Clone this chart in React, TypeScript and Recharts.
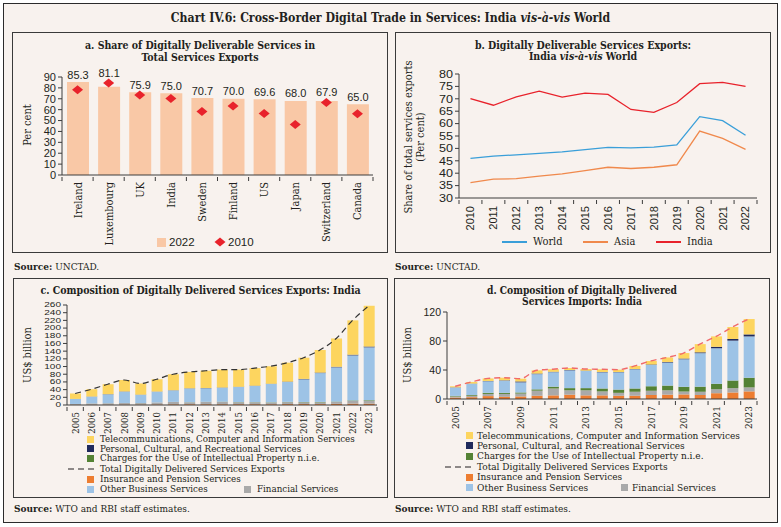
import React from "react";
import { Bar, ComposedChart, LabelList, Line, LineChart, Scatter, XAxis, YAxis } from "recharts";

const SERIF = '"DejaVu Serif Condensed", "DejaVu Serif", serif';
const SANS = '"Liberation Sans", Arial, sans-serif';
const INK = "#231f20";
const AXIS = "#3c3c3c";
const BG = "#f8f2ee";

// a. share of digitally deliverable services (per cent)
const COUNTRIES = ["Ireland", "Luxembourg", "UK", "India", "Sweden", "Finland", "US", "Japan", "Switzerland", "Canada"];
const SHARE_2022 = [85.3, 81.1, 75.9, 75.0, 70.7, 70.0, 69.6, 68.0, 67.9, 65.0];
const SHARE_2010 = [78.3, 84.5, 73.4, 70.3, 58.4, 63.3, 56.5, 46.4, 66.6, 56.2];
const TICKS_A = [0, 10, 20, 30, 40, 50, 60, 70, 80, 90];

// b. share of total services exports (per cent)
const YEARS_B = ["2010", "2011", "2012", "2013", "2014", "2015", "2016", "2017", "2018", "2019", "2020", "2021", "2022"];
const WORLD = [46.0, 46.9, 47.4, 48.0, 48.6, 49.5, 50.4, 50.2, 50.5, 51.4, 62.8, 61.2, 55.3];
const ASIA = [36.2, 37.6, 37.8, 38.8, 39.7, 41.0, 42.4, 41.9, 42.4, 43.4, 57.0, 54.0, 49.6];
const INDIA = [70.1, 67.4, 70.8, 73.1, 70.7, 72.3, 71.8, 65.7, 64.5, 68.5, 76.1, 76.6, 75.0];
const TICKS_B = [30, 35, 40, 45, 50, 55, 60, 65, 70, 75, 80];

// c/d. composition, US$ billion
const YEARS_CD = ["2005", "2006", "2007", "2008", "2009", "2010", "2011", "2012", "2013", "2014", "2015", "2016", "2017", "2018", "2019", "2020", "2021", "2022", "2023"];

const EXP_INSURANCE = [0.8, 0.9, 1.0, 1.2, 1.2, 1.5, 1.8, 2.0, 2.0, 2.0, 2.1, 2.0, 2.1, 2.4, 2.5, 2.4, 3.0, 3.5, 3.5];
const EXP_FINANCIAL = [1.8, 3.0, 3.4, 4.0, 3.7, 5.0, 6.0, 5.0, 6.0, 6.0, 5.0, 5.0, 4.5, 5.0, 4.5, 4.5, 5.0, 7.0, 7.5];
const EXP_IP = [0.1, 0.2, 0.2, 0.1, 0.2, 0.1, 0.3, 0.3, 0.4, 0.7, 0.5, 0.5, 0.7, 0.8, 0.9, 1.2, 0.9, 1.3, 1.5];
const EXP_OTHER = [12.9, 17.6, 23.1, 29.4, 21.4, 28.1, 29.9, 35.7, 35.1, 36.3, 39.2, 41.9, 47.3, 51.6, 58.8, 74.9, 89.1, 117.2, 137.5];
const EXP_PERSONAL = [0.3, 0.4, 0.5, 0.6, 0.5, 0.4, 0.4, 0.5, 0.6, 0.6, 0.6, 0.8, 0.9, 1.0, 1.2, 1.3, 1.4, 1.8, 2.0];
const EXP_TELECOM = [14.1, 18.9, 25.8, 29.7, 29.0, 31.9, 41.6, 42.5, 44.9, 46.4, 44.6, 45.8, 45.5, 49.2, 55.1, 58.7, 73.6, 89.2, 106.0];
const EXP_TOTAL = [30, 41, 54, 65, 56, 67, 80, 86, 89, 92, 92, 96, 101, 110, 123, 143, 173, 220, 258];
const TICKS_C = [0, 20, 40, 60, 80, 100, 120, 140, 160, 180, 200, 220, 240, 260];

const IMP_INSURANCE = [2.0, 2.5, 4.0, 3.0, 3.5, 4.5, 5.0, 6.0, 5.0, 5.0, 4.5, 4.5, 5.5, 6.0, 6.3, 5.5, 8.0, 9.0, 10.5];
const IMP_FINANCIAL = [1.5, 2.0, 3.0, 4.0, 4.0, 7.0, 9.5, 6.0, 7.0, 5.5, 4.0, 5.5, 6.0, 6.0, 4.0, 4.5, 5.5, 6.0, 5.5];
const IMP_IP = [0.8, 1.0, 1.5, 1.5, 1.5, 1.8, 2.5, 3.0, 3.0, 4.0, 4.5, 4.5, 6.0, 6.5, 6.5, 7.0, 7.5, 10.5, 13.3];
const IMP_OTHER = [11.5, 15.5, 16.0, 16.8, 14.0, 21.0, 20.0, 24.5, 23.6, 22.3, 23.8, 26.5, 29.5, 31.8, 38.0, 46.2, 49.0, 55.0, 57.0];
const IMP_PERSONAL = [0.3, 0.3, 0.4, 0.5, 1.2, 0.8, 0.6, 0.5, 0.5, 0.5, 0.4, 0.4, 0.5, 0.8, 1.0, 1.2, 2.0, 2.3, 2.8];
const IMP_TELECOM = [1.5, 2.2, 3.5, 3.6, 3.8, 4.5, 3.5, 2.8, 2.3, 3.7, 3.3, 4.2, 5.0, 6.2, 7.6, 11.3, 14.4, 16.5, 21.2];
const IMP_TOTAL = [17.5, 23.5, 28.4, 29.4, 28.0, 39.6, 41.1, 42.8, 41.4, 41.0, 40.5, 45.6, 52.5, 57.3, 63.4, 75.7, 86.4, 99.3, 110.3];
const TICKS_D = [0, 40, 80, 120];

const C = {
  peach: "#f9c8a6",
  red: "#e8222b",
  world: "#3a9fd9",
  asia: "#f0894c",
  india: "#e8222b",
  telecom: "#fdd55f",
  personal: "#1f2a5c",
  ip: "#548235",
  insurance: "#ed7d31",
  other: "#9dc3e6",
  financial: "#a9a9a9",
};

const dataA = COUNTRIES.map((c, i) => ({ country: c, v2022: SHARE_2022[i], v2010: SHARE_2010[i] }));
const dataB = YEARS_B.map((y, i) => ({ year: y, world: WORLD[i], asia: ASIA[i], india: INDIA[i] }));
const dataC = YEARS_CD.map((y, i) => ({
  year: y,
  insurance: EXP_INSURANCE[i],
  financial: EXP_FINANCIAL[i],
  ip: EXP_IP[i],
  other: EXP_OTHER[i],
  personal: EXP_PERSONAL[i],
  telecom: EXP_TELECOM[i],
  total: EXP_TOTAL[i],
}));
const dataD = YEARS_CD.map((y, i) => ({
  year: y,
  insurance: IMP_INSURANCE[i],
  financial: IMP_FINANCIAL[i],
  ip: IMP_IP[i],
  other: IMP_OTHER[i],
  personal: IMP_PERSONAL[i],
  telecom: IMP_TELECOM[i],
  total: IMP_TOTAL[i],
}));

// category tick: ticks on band boundaries (Excel style), label rotated
function CategoryTick(props: any) {
  const { x, y, payload, index, band, fontSize, font, gap, every = 1 } = props;
  const half = band / 2;
  return (
    <g>
      {index === 0 && <line x1={x - half} y1={y} x2={x - half} y2={y + 4} stroke={AXIS} />}
      <line x1={x + half} y1={y} x2={x + half} y2={y + 4} stroke={AXIS} />
      {index % every === 0 && (
        <text
          x={0}
          y={0}
          transform={`translate(${x + fontSize * 0.36},${y + gap}) rotate(-90)`}
          textAnchor="end"
          fontSize={fontSize}
          fontFamily={font}
          fill={INK}
        >
          {payload.value}
        </text>
      )}
    </g>
  );
}

// value-axis numerals, optionally stretched/squashed to fit crowded axes
function ScaledTick(props: any) {
  const { x, y, payload, size = 10, sx = 1, sy = 1 } = props;
  return (
    <text
      x={0}
      y={0}
      transform={`translate(${x},${y}) scale(${sx},${sy})`}
      textAnchor="end"
      dy="0.36em"
      fontSize={size}
      fontFamily={SANS}
      fill={INK}
    >
      {payload.value}
    </text>
  );
}

function Diamond(props: any) {
  const { cx, cy } = props;
  return <polygon points={`${cx},${cy - 4.5} ${cx + 5.5},${cy} ${cx},${cy + 4.5} ${cx - 5.5},${cy}`} fill={C.red} />;
}

// bar value label; lifted when the 2010 diamond sits above the bar top
const PX_PER_PCT = 98 / 90;
function ValueLabel(props: any) {
  const vb = props.viewBox || props;
  const { value, index } = props;
  const x = vb.x + vb.width / 2;
  const top = vb.y;
  const diamondTop = top + (Number(value) - SHARE_2010[index]) * PX_PER_PCT - 4.5;
  const base = Math.min(top - 3.5, diamondTop - 1.5);
  return (
    <text x={x} y={base} textAnchor="middle" fontSize={11} fontFamily={SANS} fill={INK}>
      {Number(value).toFixed(1)}
    </text>
  );
}

function Txt({ x, y, w, align = "left", size = 10, bold = false, children, lh = 12 }: any) {
  return (
    <div
      style={{
        position: "absolute",
        left: x,
        top: y - lh / 2,
        width: w,
        textAlign: align,
        fontSize: size,
        fontWeight: bold ? 700 : 400,
        lineHeight: `${lh}px`,
        whiteSpace: "nowrap",
      }}
    >
      {children}
    </div>
  );
}

function VLabel({ cx, cy, size = 11, lines }: { cx: number; cy: number; size?: number; lines: string[] }) {
  const w = 220;
  const h = lines.length * 12;
  return (
    <div
      style={{
        position: "absolute",
        left: cx - w / 2,
        top: cy - h / 2,
        width: w,
        height: h,
        transform: "rotate(-90deg)",
        textAlign: "center",
        fontSize: size,
        lineHeight: "12px",
        whiteSpace: "nowrap",
      }}
    >
      {lines.map((l) => (
        <div key={l}>{l}</div>
      ))}
    </div>
  );
}

function Box({ x, y, w, h }: any) {
  return (
    <div
      style={{ position: "absolute", left: x, top: y, width: w, height: h, boxSizing: "border-box", border: "1px solid #3a3a3a" }}
    />
  );
}

function Swatch({ x, y, color, label, size, gap = 6, sq = 7, lh = 10 }: any) {
  return (
    <>
      <div style={{ position: "absolute", left: x, top: y - sq / 2, width: sq, height: sq, background: color }} />
      <Txt x={x + sq + gap} y={y} size={size} lh={lh}>
        {label}
      </Txt>
    </>
  );
}

function DashKey({ x1, x2, y, label, size, tx, lh = 10 }: any) {
  return (
    <>
      <svg style={{ position: "absolute", left: x1, top: y - 2 }} width={x2 - x1} height={4}>
        <line x1={0} y1={2} x2={x2 - x1} y2={2} stroke={INK} strokeWidth={1.2} strokeDasharray="6 4" />
      </svg>
      <Txt x={tx} y={y} size={size} lh={lh}>
        {label}
      </Txt>
    </>
  );
}

function LineKey({ x, y, color, label }: any) {
  return (
    <>
      <div style={{ position: "absolute", left: x, top: y - 0.75, width: 25, height: 1.5, background: color }} />
      <Txt x={x + 31} y={y} size={11}>
        {label}
      </Txt>
    </>
  );
}

const yTick = (size: number) => ({ fontSize: size, fill: INK, fontFamily: SANS });

function Source({ x, y, text }: any) {
  return (
    <Txt x={x} y={y} size={10}>
      <b>Source:</b> {text}
    </Txt>
  );
}

export default function App() {
  return (
    <div
      style={{
        position: "absolute",
        left: 0,
        top: 0,
        width: 781,
        height: 527,
        background: "#fff",
        fontFamily: SERIF,
        color: INK,
        overflow: "hidden",
      }}
    >
      <div
        style={{
          position: "absolute",
          left: 3,
          top: 3,
          width: 775,
          height: 520,
          boxSizing: "border-box",
          border: "1.5px solid #2b2b2b",
          background: BG,
        }}
      />
      <Txt x={0} y={18} w={781} align="center" size={12.2} bold lh={16}>
        Chart IV.6: Cross-Border Digital Trade in Services: India <i>vis-à-vis</i> World
      </Txt>

      {/* a */}
      <Box x={12} y={32} w={376} h={221} />
      <Txt x={12} y={45} w={376} align="center" size={10.5} bold lh={11}>
        a. Share of Digitally Deliverable Services in
      </Txt>
      <Txt x={12} y={57} w={376} align="center" size={10.5} bold lh={11}>
        Total Services Exports
      </Txt>
      <VLabel cx={28} cy={125} lines={["Per cent"]} />
      <div style={{ position: "absolute", left: 12, top: 32 }}>
        <ComposedChart width={376} height={221} data={dataA} margin={{ top: 45, right: 15, bottom: 8, left: 20 }}>
          <XAxis
            dataKey="country"
            height={70}
            interval={0}
            tickSize={0}
            tickLine={false}
            axisLine={{ stroke: AXIS }}
            tick={<CategoryTick band={31.1} fontSize={11} font={SERIF} gap={5} />}
          />
          <YAxis
            width={30}
            domain={[0, 90]}
            ticks={TICKS_A}
            interval={0}
            tickSize={4}
            tickMargin={2}
            axisLine={{ stroke: AXIS }}
            tickLine={{ stroke: AXIS }}
            tick={yTick(11)}
          />
          <Bar dataKey="v2022" fill={C.peach} barSize={22} isAnimationActive={false}>
            <LabelList dataKey="v2022" content={<ValueLabel />} />
          </Bar>
          <Scatter dataKey="v2010" shape={Diamond} isAnimationActive={false} />
        </ComposedChart>
      </div>
      <div style={{ position: "absolute", left: 157, top: 238, width: 9, height: 9, background: C.peach }} />
      <Txt x={169} y={242} size={11.5}>
        <span style={{ fontFamily: SANS }}>2022</span>
      </Txt>
      <svg style={{ position: "absolute", left: 214, top: 237 }} width={12} height={10}>
        <polygon points="6,0.5 11.5,5 6,9.5 0.5,5" fill={C.red} />
      </svg>
      <Txt x={228} y={242} size={11.5}>
        <span style={{ fontFamily: SANS }}>2010</span>
      </Txt>
      <Source x={14} y={267} text="UNCTAD." />

      {/* b */}
      <Box x={395} y={32} w={376} h={221} />
      <Txt x={395} y={45} w={376} align="center" size={10.5} bold lh={11}>
        b. Digitally Deliverable Services Exports:
      </Txt>
      <Txt x={395} y={56} w={376} align="center" size={10.5} bold lh={11}>
        India <i>vis-à-vis</i> World
      </Txt>
      <VLabel cx={415} cy={137} lines={["Share of total services exports", "(Per cent)"]} />
      <div style={{ position: "absolute", left: 395, top: 32 }}>
        <LineChart width={376} height={221} data={dataB} margin={{ top: 42, right: 14, bottom: 8, left: 34 }}>
          <XAxis
            dataKey="year"
            height={47}
            interval={0}
            tickSize={0}
            tickLine={false}
            padding={{ left: 298 / 26, right: 298 / 26 }}
            axisLine={{ stroke: AXIS }}
            tick={<CategoryTick band={298 / 13} fontSize={11} font={SANS} gap={6} />}
          />
          <YAxis
            width={30}
            domain={[30, 80]}
            ticks={TICKS_B}
            interval={0}
            tickSize={4}
            tickMargin={2}
            axisLine={{ stroke: AXIS }}
            tickLine={{ stroke: AXIS }}
            tick={<ScaledTick size={10.5} sx={1.2} />}
          />
          <Line dataKey="world" stroke={C.world} strokeWidth={1.3} dot={false} isAnimationActive={false} />
          <Line dataKey="asia" stroke={C.asia} strokeWidth={1.3} dot={false} isAnimationActive={false} />
          <Line dataKey="india" stroke={C.india} strokeWidth={1.3} dot={false} isAnimationActive={false} />
        </LineChart>
      </div>
      <LineKey x={502} y={242} color={C.world} label="World" />
      <LineKey x={583} y={242} color={C.asia} label="Asia" />
      <LineKey x={656} y={242} color={C.india} label="India" />
      <Source x={395} y={267} text="UNCTAD." />

      {/* c */}
      <Box x={13} y={278} w={375} h={220} />
      <Txt x={13} y={290} w={375} align="center" size={10.5} bold lh={11}>
        c. Composition of Digitally Delivered Services Exports: India
      </Txt>
      <VLabel cx={28} cy={355} lines={["US$ billion"]} />
      <div style={{ position: "absolute", left: 13, top: 278 }}>
        <ComposedChart width={375} height={220} data={dataC} margin={{ top: 27, right: 11, bottom: 63, left: 28 }}>
          <XAxis
            dataKey="year"
            height={30}
            interval={0}
            tickSize={0}
            tickLine={false}
            axisLine={{ stroke: AXIS }}
            tick={<CategoryTick band={310 / 19} fontSize={9.5} font={SERIF} gap={5} />}
          />
          <YAxis
            width={26}
            domain={[0, 260]}
            ticks={TICKS_C}
            interval={0}
            tickSize={4}
            tickMargin={2}
            axisLine={{ stroke: AXIS }}
            tickLine={{ stroke: AXIS }}
            tick={<ScaledTick size={8.5} sx={1.18} sy={0.78} />}
          />
          <Bar dataKey="insurance" stackId="s" fill={C.insurance} barSize={11} isAnimationActive={false} />
          <Bar dataKey="financial" stackId="s" fill={C.financial} barSize={11} isAnimationActive={false} />
          <Bar dataKey="ip" stackId="s" fill={C.ip} barSize={11} isAnimationActive={false} />
          <Bar dataKey="other" stackId="s" fill={C.other} barSize={11} isAnimationActive={false} />
          <Bar dataKey="personal" stackId="s" fill={C.personal} barSize={11} isAnimationActive={false} />
          <Bar dataKey="telecom" stackId="s" fill={C.telecom} barSize={11} isAnimationActive={false} />
          <Line
            dataKey="total"
            type="monotone"
            stroke="#333"
            strokeWidth={1.2}
            strokeDasharray="6 4"
            dot={false}
            isAnimationActive={false}
          />
        </ComposedChart>
      </div>
      <Swatch x={87} y={439} color={C.telecom} size={9.7} label="Telecommunications, Computer and Information Services" />
      <Swatch x={87} y={448.5} color={C.personal} size={9.7} label="Personal, Cultural, and Recreational Services" />
      <Swatch x={87} y={458} color={C.ip} size={9.7} label="Charges for the Use of Intellectual Property n.i.e." />
      <DashKey x1={68} x2={95} y={469} tx={100} size={9.7} label="Total Digitally Delivered Services Exports" />
      <Swatch x={87} y={479} color={C.insurance} size={9.7} label="Insurance and Pension Services" />
      <Swatch x={87} y={489} color={C.other} size={9.7} label="Other Business Services" />
      <Swatch x={244} y={489} color={C.financial} size={9.7} label="Financial Services" />
      <Source x={14} y={509} text="WTO and RBI staff estimates." />

      {/* d */}
      <Box x={394} y={278} w={376} h={220} />
      <Txt x={394} y={289.5} w={376} align="center" size={10.2} bold lh={10}>
        d. Composition of Digitally Delivered
      </Txt>
      <Txt x={394} y={300.5} w={376} align="center" size={10.2} bold lh={10}>
        Services Imports: India
      </Txt>
      <VLabel cx={408} cy={355} lines={["US$ billion"]} />
      <div style={{ position: "absolute", left: 394, top: 278 }}>
        <ComposedChart width={376} height={220} data={dataD} margin={{ top: 34, right: 13, bottom: 67, left: 27 }}>
          <XAxis
            dataKey="year"
            height={32}
            interval={0}
            tickSize={0}
            tickLine={false}
            axisLine={{ stroke: AXIS }}
            tick={<CategoryTick band={310 / 19} fontSize={10} font={SERIF} gap={5} every={2} />}
          />
          <YAxis
            width={26}
            domain={[0, 120]}
            ticks={TICKS_D}
            interval={0}
            tickSize={4}
            tickMargin={2}
            axisLine={{ stroke: AXIS }}
            tickLine={{ stroke: AXIS }}
            tick={yTick(10.5)}
          />
          <Bar dataKey="insurance" stackId="s" fill={C.insurance} barSize={11} isAnimationActive={false} />
          <Bar dataKey="financial" stackId="s" fill={C.financial} barSize={11} isAnimationActive={false} />
          <Bar dataKey="ip" stackId="s" fill={C.ip} barSize={11} isAnimationActive={false} />
          <Bar dataKey="other" stackId="s" fill={C.other} barSize={11} isAnimationActive={false} />
          <Bar dataKey="personal" stackId="s" fill={C.personal} barSize={11} isAnimationActive={false} />
          <Bar dataKey="telecom" stackId="s" fill={C.telecom} barSize={11} isAnimationActive={false} />
          <Line
            dataKey="total"
            type="monotone"
            stroke="#f06a6a"
            strokeWidth={1.4}
            strokeDasharray="6 4"
            dot={false}
            isAnimationActive={false}
          />
        </ComposedChart>
      </div>
      <Swatch x={466} y={435.5} color={C.telecom} size={10} gap={4} label="Telecommunications, Computer and Information Services" />
      <Swatch x={466} y={445.9} color={C.personal} size={10} gap={4} label="Personal, Cultural, and Recreational Services" />
      <Swatch x={466} y={456.3} color={C.ip} size={10} gap={4} label="Charges for the Use of Intellectual Property n.i.e." />
      <DashKey x1={445} x2={472} y={466.7} tx={477} size={10} label="Total Digitally Delivered Services Exports" />
      <Swatch x={466} y={477.1} color={C.insurance} size={10} gap={4} label="Insurance and Pension Services" />
      <Swatch x={466} y={487.5} color={C.other} size={10} gap={4} label="Other Business Services" />
      <Swatch x={621} y={487.5} color={C.financial} size={10} gap={4} label="Financial Services" />
      <Source x={395} y={509} text="WTO and RBI staff estimates." />
    </div>
  );
}
